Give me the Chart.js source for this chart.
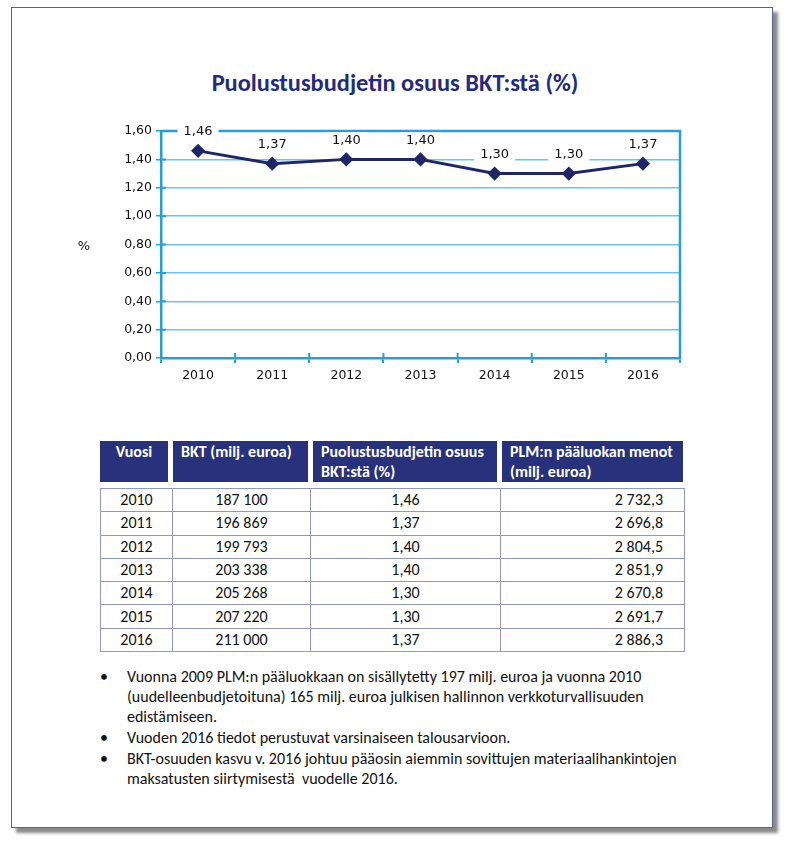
<!DOCTYPE html>
<html>
<head>
<meta charset="utf-8">
<script src="https://cdn.jsdelivr.net/npm/chart.js@4.4.1/dist/chart.umd.min.js"></script>
<style>
  body { margin: 0; background: #fff; font-family: Carlito, Lato, sans-serif; }
  #page { position: absolute; left: 11px; top: 7px; width: 760px; height: 819px;
          border: 1.5px solid #56629e; box-shadow: 5px 5px 3px #8a8a8a; background: #fff; }
  #title { position: absolute; left: 0; top: 68px; width: 790px; text-align: center;
           font-weight: bold; font-size: 24.4px; color: #232b7d; }
  #wrap { position: absolute; left: 60px; top: 110px; width: 640px; height: 285px; }
  .hdr { position: absolute; top: 441px; height: 41px; background: #28317b; color: #fff;
         font-weight: bold; font-size: 16px; line-height: 20px; padding: 1px 0 0 8px; box-sizing: border-box; }
  #tbl { position: absolute; left: 100px; top: 488px; border-collapse: collapse; font-size: 16px; color: #111; }
  #tbl td { border: 1px solid #9096c8; height: 22.3px; padding: 0; line-height: 18px; }
  #tbl td.c { text-align: center; }
  #tbl td.r { text-align: right; padding-right: 21px; }
  #notes { position: absolute; left: 100px; top: 667px; width: 602px; font-size: 16px; color: #111; line-height: 20px; }
  #notes ul { margin: 0; padding: 0 0 0 27px; list-style: none; }
  #notes li { position: relative; margin-bottom: 1px; }
  #notes li:before { content: "\2022"; position: absolute; left: -27px; }
</style>
</head>
<body>
<div id="page"></div>
<div id="title">Puolustusbudjetin osuus BKT:stä (%)</div>
<div id="wrap"><canvas id="c"></canvas></div>

<div class="hdr" style="left:100px;width:68px;padding-left:0;text-align:center;">Vuosi</div>
<div class="hdr" style="left:173px;width:135px;">BKT (milj. euroa)</div>
<div class="hdr" style="left:313px;width:184px;">Puolustusbudjetin osuus<br>BKT:stä (%)</div>
<div class="hdr" style="left:502px;width:181px;">PLM:n pääluokan menot<br>(milj. euroa)</div>

<table id="tbl"><tbody id="tb"></tbody></table>

<div id="notes">
  <ul>
    <li>Vuonna 2009 PLM:n pääluokkaan on sisällytetty 197 milj. euroa ja vuonna 2010 (uudelleenbudjetoituna) 165 milj. euroa julkisen hallinnon verkkoturvallisuuden edistämiseen.</li>
    <li>Vuoden 2016 tiedot perustuvat varsinaiseen talousarvioon.</li>
    <li>BKT-osuuden kasvu v. 2016 johtuu pääosin aiemmin sovittujen materiaalihankintojen maksatusten siirtymisestä&nbsp; vuodelle 2016.</li>
  </ul>
</div>

<script>
// data
const years = ["2010", "2011", "2012", "2013", "2014", "2015", "2016"];
const shareOfGdp = [1.46, 1.37, 1.40, 1.40, 1.30, 1.30, 1.37];
const gdp = ["187 100", "196 869", "199 793", "203 338", "205 268", "207 220", "211 000"];
const plmSpending = ["2 732,3", "2 696,8", "2 804,5", "2 851,9", "2 670,8", "2 691,7", "2 886,3"];
const yTicks = [0, 0.2, 0.4, 0.6, 0.8, 1.0, 1.2, 1.4, 1.6];

const fi = (v) => v.toFixed(2).replace(".", ",");

// table rows
const tb = document.getElementById("tb");
years.forEach((y, i) => {
  const tr = document.createElement("tr");
  tr.innerHTML =
    '<td class="c" style="width:71px">' + y + "</td>" +
    '<td class="c" style="width:137px">' + gdp[i] + "</td>" +
    '<td class="c" style="width:189px">' + fi(shareOfGdp[i]) + "</td>" +
    '<td class="r" style="width:162px">' + plmSpending[i] + "</td>";
  tb.appendChild(tr);
});

const blue = "#22a0dc";
const navy = "#1f2667";

// frame round the plot, inner tick marks, "%" label, value labels with white boxes
const extras = {
  id: "extras",
  beforeDatasetsDraw(chart) {
    const a = chart.chartArea;
    const ctx = chart.ctx;
    ctx.save();
    ctx.strokeStyle = blue;
    ctx.lineWidth = 2.5;
    ctx.beginPath();
    ctx.moveTo(a.left, a.top);
    ctx.lineTo(a.right, a.top);
    ctx.lineTo(a.right, a.bottom);
    ctx.stroke();
    ctx.lineWidth = 2;
    ctx.beginPath();
    const ys = chart.scales.y;
    ys.ticks.forEach((t) => {
      const py = ys.getPixelForValue(t.value);
      ctx.moveTo(a.left, py);
      ctx.lineTo(a.left + 5, py);
    });
    const xs = chart.scales.x;
    for (let i = 1; i < years.length; i++) {
      const px = (xs.getPixelForValue(i - 1) + xs.getPixelForValue(i)) / 2;
      ctx.moveTo(px, a.bottom);
      ctx.lineTo(px, a.bottom - 5);
    }
    ctx.stroke();
    ctx.fillStyle = "#111";
    ctx.font = "13px 'DejaVu Sans', Verdana, sans-serif";
    ctx.textAlign = "center";
    ctx.textBaseline = "middle";
    ctx.fillText("%", a.left - 77, (a.top + a.bottom) / 2 + 2);
    ctx.restore();
  },
  afterDatasetsDraw(chart) {
    const ctx = chart.ctx;
    const meta = chart.getDatasetMeta(0);
    ctx.save();
    ctx.font = "13px 'DejaVu Sans', Verdana, sans-serif";
    ctx.textAlign = "center";
    ctx.textBaseline = "middle";
    meta.data.forEach((pt, i) => {
      const txt = fi(shareOfGdp[i]);
      const w = ctx.measureText(txt).width;
      const y = pt.y - 19;
      ctx.fillStyle = "#fff";
      ctx.fillRect(pt.x - w / 2 - 6, y - 8, w + 12, 16);
      ctx.fillStyle = "#111";
      ctx.fillText(txt, pt.x, y);
    });
    ctx.restore();
  }
};

new Chart(document.getElementById("c"), {
  type: "line",
  data: {
    labels: years,
    datasets: [{
      data: shareOfGdp,
      borderColor: navy,
      backgroundColor: navy,
      borderWidth: 3,
      pointStyle: "rectRot",
      pointRadius: 5,
      pointHoverRadius: 5,
      tension: 0
    }]
  },
  options: {
    responsive: true,
    maintainAspectRatio: false,
    animation: false,
    layout: { padding: { top: 21, right: 20, left: 0, bottom: 0 } },
    plugins: { legend: { display: false }, tooltip: { enabled: false } },
    scales: {
      x: {
        offset: true,
        grid: { offset: true, drawOnChartArea: false, color: blue, lineWidth: 2, tickLength: 5 },
        border: { color: blue, width: 2.5 },
        ticks: { color: "#111", padding: 5, font: { family: "'DejaVu Sans', Verdana, sans-serif", size: 12.5 } },
        afterFit: (s) => { s.height = 37; }
      },
      y: {
        min: 0,
        max: 1.6,
        afterBuildTicks: (s) => { s.ticks = yTicks.map((v) => ({ value: v })); },
        grid: { color: "#6fc2ec", lineWidth: 1.5, tickLength: 5, tickColor: blue },
        border: { color: blue, width: 2.5 },
        ticks: {
          color: "#111",
          padding: 4,
          font: { family: "'DejaVu Sans', Verdana, sans-serif", size: 12.5 },
          callback: (v) => fi(v)
        },
        afterFit: (s) => { s.width = 101; }
      }
    }
  },
  plugins: [extras]
});
</script>
</body>
</html>
